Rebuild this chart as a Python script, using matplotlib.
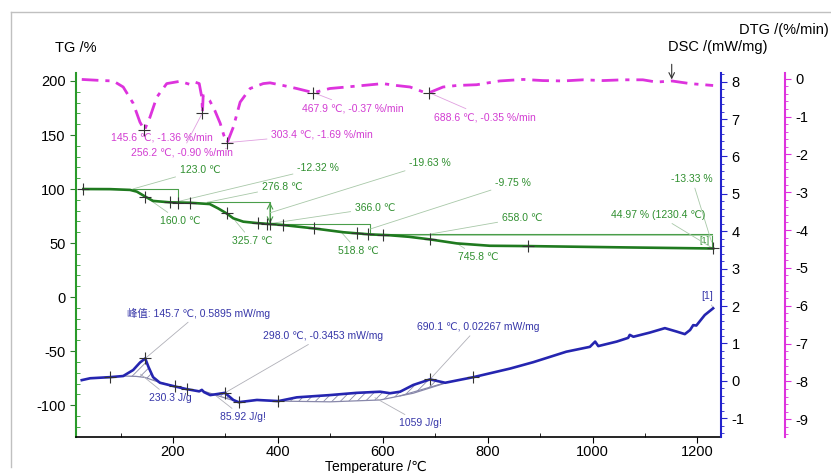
import matplotlib.pyplot as plt
import numpy as np
from matplotlib.lines import Line2D
from matplotlib.ticker import MultipleLocator

plt.rcParams['font.family'] = ['Liberation Sans', 'DejaVu Sans', 'Noto Sans CJK SC']
plt.rcParams['hatch.linewidth'] = 0.6
plt.rcParams['axes.unicode_minus'] = False

W, H = 831, 473

# --- data ---
tg_t = [29, 80, 118, 131, 147, 162, 194, 232, 270, 286, 302, 315, 334, 360, 410,
        468, 525, 576, 614, 650, 690, 741, 804, 877, 1059, 1230]
tg_v = [100, 99.9, 99.2, 97.6, 93, 89, 87.7, 87.3, 86.1, 82.1, 77.5, 72.9, 69.8,
        68.5, 66.7, 63.6, 60, 58, 57.2, 55.8, 53.4, 49.7, 47.5, 47.2, 46, 44.97]

dtg_t = [26, 66, 86, 105, 124, 137, 145.6, 156, 169, 188, 213, 232, 242, 250, 255,
         256.2, 257.5, 262, 270, 280, 290, 297, 303.4, 315, 328, 347, 372, 385, 410,
         436, 467.9, 499, 531, 562, 600, 626, 652, 677, 688.6, 715, 741, 779, 823,
         868, 905, 944, 982, 1020, 1058, 1096, 1122, 1151, 1186, 1230]
dtg_v = [-0.02, -0.05, -0.06, -0.22, -0.65, -1.15, -1.36, -1.02, -0.49, -0.13, -0.07,
         -0.15, -0.09, -0.13, -0.5, -0.90, -0.45, -0.47, -0.58, -0.85, -1.18, -1.5,
         -1.69, -1.28, -0.62, -0.26, -0.13, -0.11, -0.18, -0.26, -0.37, -0.26, -0.22,
         -0.18, -0.13, -0.18, -0.22, -0.35, -0.37, -0.22, -0.18, -0.16, -0.06, -0.02,
         -0.05, -0.06, -0.03, -0.05, -0.03, -0.03, -0.09, -0.06, -0.13, -0.18]

dsc_t = [26, 42, 80, 105, 124, 137, 147, 153, 162, 175, 204, 226, 250, 255, 259, 271,
         299, 315, 325, 360, 401, 436, 499, 550, 595, 614, 633, 658, 690, 719, 773,
         843, 887, 950, 995, 1005, 1011, 1046, 1068, 1071, 1078, 1109, 1138, 1160,
         1176, 1186, 1192, 1198, 1214, 1230]
dsc_v = [0.02, 0.07, 0.10, 0.13, 0.29, 0.49, 0.60, 0.38, 0.10, -0.05, -0.15, -0.22,
         -0.28, -0.24, -0.30, -0.38, -0.32, -0.51, -0.57, -0.51, -0.54, -0.44, -0.38,
         -0.32, -0.29, -0.33, -0.29, -0.11, 0.04, -0.05, 0.10, 0.33, 0.50, 0.78, 0.91,
         1.05, 0.93, 1.05, 1.15, 1.23, 1.18, 1.29, 1.41, 1.32, 1.25, 1.36, 1.49, 1.48,
         1.76, 1.94]

# DSC peak baselines
base1_t = [105, 130, 147, 170, 204]
base1_v = [0.13, 0.12, 0.09, -0.02, -0.15]
base2_t = [255, 325]
base2_v = [-0.26, -0.57]
base3_t = [401, 499, 595, 658, 719]
base3_v = [-0.54, -0.56, -0.51, -0.33, -0.06]
base4_t = [633, 719]
base4_v = [-0.40, -0.05]

# TG step construction (onset temps / mass levels)
steps_t = [123, 210, 265, 385, 576, 1227]
steps_v = [100, 87.68, 68.05, 58.30, 44.97]

tg_mark_t = [29, 147, 194, 210, 232, 302, 362, 379, 385, 410, 468, 551, 572, 600, 690, 877, 1230]
tg_mark_v = [100, 93, 87.7, 87.5, 87.3, 77.5, 68.4, 68, 67.9, 66.7, 63.6, 59, 58.2, 57.6, 53.4, 47.2, 44.97]
dtg_mark_t = [145.6, 256.2, 303.4, 467.9, 688.6]
dtg_mark_v = [-1.36, -0.90, -1.69, -0.37, -0.37]
dsc_mark_t = [80, 147, 204, 226, 299, 325, 401, 690, 773]
dsc_mark_v = [0.10, 0.60, -0.15, -0.22, -0.32, -0.57, -0.54, 0.04, 0.10]

# labels: text, anchor in data, text centre in image pixels
tg_labels = [
    ("123.0 ℃", (123, 100), (200, 170)),
    ("160.0 ℃", (147, 93), (180, 221)),
    ("-12.32 %", (210, 88.5), (318, 168)),
    ("276.8 ℃", (265, 87.68), (282, 187)),
    ("325.7 ℃", (318, 71), (252, 241)),
    ("366.0 ℃", (385, 68.05), (375, 208)),
    ("518.8 ℃", (520, 60.5), (358, 251)),
    ("-19.63 %", (385, 78), (430, 163)),
    ("-9.75 %", (576, 63), (513, 183)),
    ("658.0 ℃", (690, 58.3), (522, 218)),
    ("745.8 ℃", (741, 49.7), (478, 257)),
    ("-13.33 %", (1227, 51), (692, 179)),
    ("44.97 % (1230.4 ℃)", (1230, 44.97), (658, 215)),
]
dtg_labels = [
    ("145.6 ℃, -1.36 %/min", None, (162, 137)),
    ("256.2 ℃, -0.90 %/min", (256.2, -0.90), (182, 152)),
    ("303.4 ℃, -1.69 %/min", (303.4, -1.69), (322, 134)),
    ("467.9 ℃, -0.37 %/min", (467.9, -0.37), (353, 108)),
    ("688.6 ℃, -0.35 %/min", (688.6, -0.37), (485, 117)),
]
dsc_labels = [
    ("峰值: 145.7 ℃, 0.5895 mW/mg", (147, 0.60), (199, 313)),
    ("230.3 J/g", (138, 0.18), (170, 398)),
    ("298.0 ℃, -0.3453 mW/mg", (299, -0.32), (323, 336)),
    ("85.92 J/g!", (282, -0.40), (243, 417)),
    ("690.1 ℃, 0.02267 mW/mg", (690, 0.04), (478, 327)),
    ("1059 J/g!", (585, -0.45), (420, 423)),
    ("[1]", (1230, 1.94), (707, 296)),
]

green = '#1f7a1f'
green_txt = '#2f8f2f'
green_thin = '#4a9e4a'
magenta = '#dd33dd'
mag_txt = '#d23cd2'
blue = '#2525b0'
blue_txt = '#3535a8'


def px(x, y):
    return (x, H - y)


fig = plt.figure(figsize=(W / 100, H / 100), dpi=100)
ax = fig.add_axes([76 / W, 1 - 437 / H, 645 / W, 364 / H])
ax2 = ax.twinx()
ax3 = ax.twinx()

ax.set_xlim(15, 1245)
ax.set_ylim(-129.5, 207.4)
ax2.set_ylim(-1.5, 8.23)
ax3.set_ylim(-9.47, 0.15)

for a in (ax, ax2, ax3):
    a.spines['top'].set_visible(False)
ax.spines['right'].set_visible(False)
ax.spines['left'].set_color('#2a9a2a')
ax.spines['left'].set_linewidth(1.5)
ax.spines['bottom'].set_linewidth(1.2)
for a in (ax2, ax3):
    a.spines['left'].set_visible(False)
    a.spines['bottom'].set_visible(False)
ax2.spines['right'].set_color('#2222cc')
ax2.spines['right'].set_linewidth(1.5)
ax3.spines['right'].set_position(('axes', 709 / 645))
ax3.spines['right'].set_color(magenta)
ax3.spines['right'].set_linewidth(1.5)

ax.set_xticks([200, 400, 600, 800, 1000, 1200])
ax.xaxis.set_minor_locator(MultipleLocator(100))
ax.yaxis.set_major_locator(MultipleLocator(50))
ax.yaxis.set_minor_locator(MultipleLocator(10))
ax2.yaxis.set_major_locator(MultipleLocator(1))
ax2.yaxis.set_minor_locator(MultipleLocator(0.2))
ax3.yaxis.set_major_locator(MultipleLocator(1))
ax3.yaxis.set_minor_locator(MultipleLocator(0.2))

ax.tick_params(axis='x', which='major', direction='out', length=4, pad=2, labelsize=10.5)
ax.tick_params(axis='x', which='minor', direction='in', length=3)
ax.tick_params(axis='y', which='major', direction='out', length=4, color='#2a7a2a', labelsize=10.5)
ax.tick_params(axis='y', which='minor', direction='in', length=3, color='#2a9a2a')
ax2.tick_params(axis='y', which='major', direction='out', length=4, color='#2222cc', labelsize=10.5)
ax2.tick_params(axis='y', which='minor', direction='out', length=2.5, color='#2222cc')
ax3.tick_params(axis='y', which='major', direction='out', length=4, color=magenta, labelsize=10.5)
ax3.tick_params(axis='y', which='minor', direction='out', length=2.5, color=magenta)

# curves
ax.plot(tg_t, tg_v, color=green, lw=1.9, zorder=4)
ax3.plot(dtg_t, dtg_v, color=magenta, lw=2, ls=(0, (6, 2.5, 1.5, 2.5)))
ax2.plot(dsc_t, dsc_v, color=blue, lw=1.9, zorder=4)

# TG step construction
st, sv = steps_t, steps_v
ax.plot([st[0], st[1], st[1]], [sv[0], sv[0], sv[1]], color=green_thin, lw=0.8)
ax.plot([st[2], st[3], st[3]], [sv[1], sv[1], sv[2]], color=green_thin, lw=0.8)
ax.plot([st[3], st[4], st[4]], [sv[2], sv[2], sv[3]], color=green_thin, lw=0.8)
ax.plot([st[4], st[5], st[5]], [sv[3], sv[3], sv[4]], color=green_thin, lw=0.8)
ax.plot([st[4], st[5]], [sv[3] - 1.2, sv[3] - 1.2], color='#a8d0a8', lw=0.7)
ax.annotate('', xy=(st[3], sv[2]), xytext=(st[3], sv[1]),
            arrowprops=dict(arrowstyle='<->', color=green_thin, lw=0.8, shrinkA=0, shrinkB=0))
ax.text(st[5] - 4, sv[3] - 6, '[1]', color=green_txt, fontsize=6.5, ha='right', va='center')

# DSC baselines and hatched areas
seg = [(base1_t, base1_v, 105, 204),
       (base2_t, base2_v, 255, 325),
       (base3_t, base3_v, 401, 719)]
for bt, bv, lo, hi in seg:
    pts_t = [t for t in dsc_t if lo <= t <= hi]
    pts_v = [v for t, v in zip(dsc_t, dsc_v) if lo <= t <= hi]
    ax2.fill(pts_t + bt[::-1], pts_v + bv[::-1], facecolor='none',
             edgecolor='#8a8aa8', hatch='////', lw=0)
    ax2.plot(bt, bv, color='#8888aa', lw=0.9)
ax2.plot(base4_t, base4_v, color='#8888aa', lw=0.8)

# cross marks
mk = dict(marker='+', ls='none', color='#333333', ms=8, mew=0.8, zorder=5)
ax.plot(tg_mark_t, tg_mark_v, **mk)
ax3.plot(dtg_mark_t, dtg_mark_v, **mk)
ax2.plot(dsc_mark_t, dsc_mark_v, **mk)


def label(a, items, color, lcolor):
    for txt, xy, tp in items:
        if xy is None:
            fig.text(tp[0] / W, 1 - tp[1] / H, txt, color=color, fontsize=7.5,
                     ha='center', va='center')
            continue
        a.annotate(txt, xy=xy, xycoords='data', xytext=px(*tp), textcoords='figure pixels',
                   color=color, fontsize=7.5, ha='center', va='center',
                   arrowprops=dict(arrowstyle='-', color=lcolor, lw=0.6,
                                   shrinkA=1, shrinkB=0))


label(ax, tg_labels, green_txt, '#a8c8a8')
label(ax3, dtg_labels, mag_txt, '#e0a0e0')
label(ax2, dsc_labels, blue_txt, '#b0b0b8')

ax3.annotate('', xy=(1151, -0.02), xytext=(1151, 0.38),
             arrowprops=dict(arrowstyle='->', color='#333333', lw=0.8, shrinkA=0, shrinkB=0))

# axis titles
fig.text(55 / W, 1 - 48 / H, 'TG /%', fontsize=10.5, ha='left', va='center')
fig.text(829 / W, 1 - 30 / H, 'DTG /(%/min)', fontsize=10.5, ha='right', va='center')
fig.text(668 / W, 1 - 47 / H, 'DSC /(mW/mg)', fontsize=10.5, ha='left', va='center')
fig.text(376 / W, 1 - 467 / H, 'Temperature /℃', fontsize=10, ha='center', va='center')

# outer frame
fig.add_artist(Line2D([10.5 / W, 10.5 / W], [1 - 12.5 / H, 1 - 467 / H],
                      transform=fig.transFigure, color='#c0c0c0', lw=1))
fig.add_artist(Line2D([10.5 / W, 1.0], [1 - 12.5 / H, 1 - 12.5 / H],
                      transform=fig.transFigure, color='#c0c0c0', lw=1))

fig.savefig('out.png', dpi=100)
